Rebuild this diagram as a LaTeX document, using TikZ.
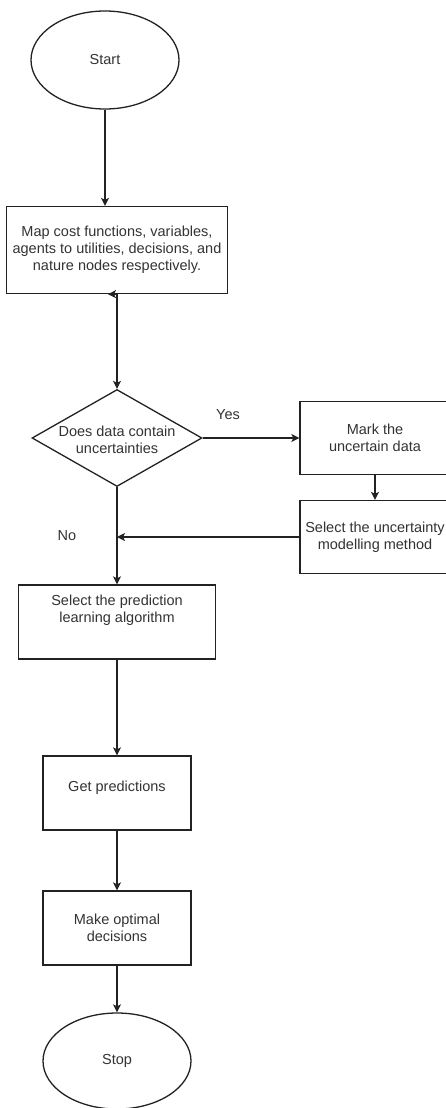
\documentclass[tikz,border=0pt]{standalone}
\usepackage{fontspec}
\setmainfont{Liberation Sans}
\usetikzlibrary{shapes.geometric,arrows.meta,calc}
\definecolor{ln}{HTML}{222222}
\definecolor{tx}{HTML}{333333}
\begin{document}
\begin{tikzpicture}[x=1pt,y=-1pt,
  every node/.style={font=\fontsize{14.5}{17}\selectfont, text=tx, inner sep=0pt, align=center},
  shp/.style={draw=ln, line width=1.3pt, fill=white},
  boxnode/.style={shp, rectangle},
  ovalnode/.style={shp, ellipse},
  flow/.style={draw=ln, line width=1.3pt, -{Stealth[length=8pt,width=8pt,inset=2pt]}},
  lbl/.style={text=tx}]
\useasboundingbox (0,0) rectangle (446,1108);
\fill[white] (0,0) rectangle (446,1108);

\node[ovalnode, minimum width=148pt, minimum height=98pt] (start) at (105,60) {Start};
\node[boxnode, minimum width=221pt, minimum height=87pt] (map) at (117,250)
  {Map cost functions, variables,\\agents to utilities, decisions, and\\nature nodes respectively.};
\node[shp, diamond, minimum width=170pt, minimum height=97pt] (dec) at (117,438) {};
\node (dect) at (117,439.5) {Does data contain\\uncertainties};
\node[boxnode, minimum width=150pt, minimum height=73pt] (mark) at (375,438) {Mark the\\uncertain data};
\node[boxnode, minimum width=150pt, minimum height=73pt] (selu) at (375,537) {Select the uncertainty\\modelling method};
\node[boxnode, minimum width=197pt, minimum height=74pt] (pred) at (117,622) {};
\node (predt) at (117,610.5) {Select the prediction\\learning algorithm};
\node[boxnode, minimum width=148pt, minimum height=74pt] (get) at (117,793) {};
\node (gett) at (117,788) {Get predictions};
\node[boxnode, minimum width=148pt, minimum height=74pt] (make) at (117,928) {Make optimal\\decisions};
\node[ovalnode, minimum width=148pt, minimum height=96pt] (stop) at (117,1061) {Stop};

\node[lbl] (yes) at (228,415) {Yes};
\node[lbl] (no) at (67,536) {No};

\coordinate (mapstub) at ($(map.south)+(-9pt,0)$);
\coordinate (join) at (dec.south |- selu.west);

\draw[flow] (start.south) -- (start.south |- map.north);
\draw[flow, {Stealth[length=8pt,width=8pt,inset=2pt]}-{Stealth[length=8pt,width=8pt,inset=2pt]}] (mapstub) -- (map.south) -- (map.south |- dec.north);
\draw[flow] (dec.east) -- (mark.west);
\draw[flow] (mark.south) -- (selu.north);
\draw[flow] (selu.west) -- (join);
\draw[flow] (dec.south) -- (dec.south |- pred.north);
\draw[flow] (pred.south) -- (pred.south |- get.north);
\draw[flow] (get.south) -- (make.north);
\draw[flow] (make.south) -- (stop.north);
\end{tikzpicture}
\end{document}
